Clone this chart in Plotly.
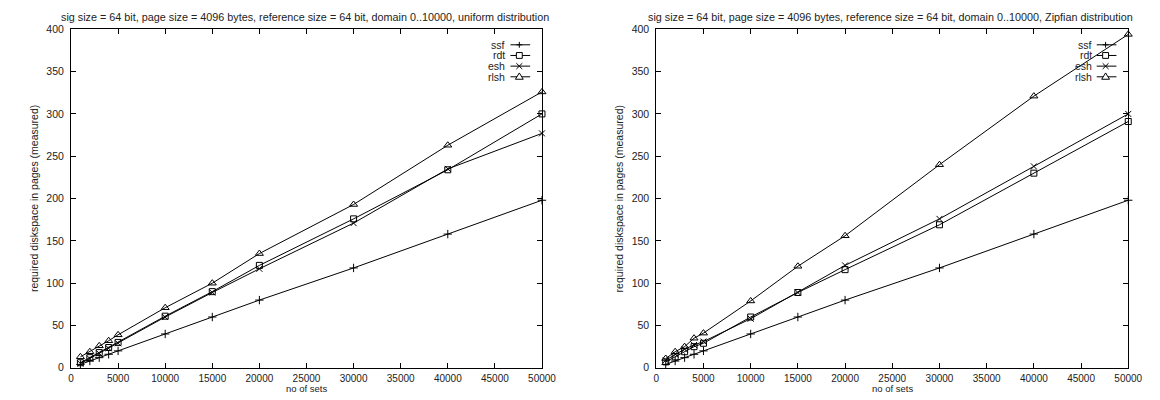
import plotly.graph_objects as go

# ---------------- data ----------------
n_sets = [1000, 2000, 3000, 4000, 5000, 10000, 15000, 20000, 30000, 40000, 50000]

ssf_uniform = [4, 8, 12, 16, 20, 40, 60, 80, 118, 158, 198]
rdt_uniform = [6, 12, 18, 24, 30, 61, 90, 121, 176, 234, 300]
esh_uniform = [5, 11, 17, 23, 29, 60, 89, 117, 171, 235, 277]
rlsh_uniform = [13, 19, 26, 32, 39, 71, 100, 135, 193, 263, 326]

ssf_zipf = [4, 8, 12, 16, 20, 40, 60, 80, 118, 158, 198]
rdt_zipf = [7, 13, 19, 25, 29, 60, 89, 116, 169, 230, 291]
esh_zipf = [9, 16, 22, 27, 31, 58, 89, 121, 176, 238, 300]
rlsh_zipf = [11, 19, 25, 35, 41, 79, 120, 156, 240, 321, 394]

series_names = ["ssf", "rdt", "esh", "rlsh"]
titles = [
    "sig size = 64 bit, page size = 4096 bytes, reference size = 64 bit, domain 0..10000, uniform distribution",
    "sig size = 64 bit, page size = 4096 bytes, reference size = 64 bit, domain 0..10000, Zipfian distribution",
]
x_title = "no of sets"
y_title = "required diskspace in pages (measured)"

# ---------------- layout geometry (pixels) ----------------
W, H = 1160, 400
FONT = "Liberation Sans, Arial, Helvetica, sans-serif"
FS = 10.5
TXT = "#222"
plots_px = [(69, 547), (663, 1142)]
top_px, bottom_px = 24, 373


def px(x):
    return x / W


def py(y):
    return 1 - y / H


symbols = {
    "ssf": dict(symbol="cross-thin", size=6),
    "rdt": dict(symbol="square-open", size=6),
    "esh": dict(symbol="x-thin", size=6),
    "rlsh": dict(symbol="triangle-up-open", size=7),
}

fig = go.Figure()

datasets = [
    [ssf_uniform, rdt_uniform, esh_uniform, rlsh_uniform],
    [ssf_zipf, rdt_zipf, esh_zipf, rlsh_zipf],
]

for i, data in enumerate(datasets):
    xa = "x" if i == 0 else "x2"
    ya = "y" if i == 0 else "y2"
    for name, vals in zip(series_names, data):
        s = symbols[name]
        fig.add_trace(go.Scatter(
            x=n_sets, y=vals, name=name, mode="lines+markers",
            xaxis=xa, yaxis=ya, showlegend=False,
            line=dict(color="black", width=1),
            marker=dict(symbol=s["symbol"], size=s["size"], color="black",
                        line=dict(color="black", width=1)),
            cliponaxis=False,
        ))

axis_common = dict(
    showgrid=False, zeroline=False, showline=True, linecolor="black", linewidth=1,
    mirror="ticks", ticks="inside", ticklen=5, tickcolor="black", tickwidth=1,
)

annotations = []
shapes = []
for i, (l, r) in enumerate(plots_px):
    sfx = "" if i == 0 else "2"
    fig.layout["xaxis" + sfx] = dict(
        axis_common, domain=[px(l), px(r)], range=[0, 50000], dtick=5000,
        tickformat="d", anchor="y" + sfx, ticklabelstandoff=1,
        tickfont=dict(family=FONT, size=10, color=TXT),
    )
    fig.layout["yaxis" + sfx] = dict(
        axis_common, domain=[py(bottom_px), py(top_px)], range=[0, 400], dtick=50,
        anchor="x" + sfx, ticklabelstandoff=4,
        tickfont=dict(family=FONT, size=FS, color=TXT),
    )
    cx = (l + r) / 2
    annotations.append(dict(text=titles[i], x=px(cx - 2), y=py(11), xref="paper", yref="paper",
                            showarrow=False, xanchor="center", yanchor="middle",
                            font=dict(family=FONT, size=FS + 0.3, color=TXT)))
    annotations.append(dict(text=x_title, x=px(cx), y=py(400), xref="paper", yref="paper",
                            showarrow=False, xanchor="center", yanchor="bottom",
                            borderpad=0, yshift=-1,
                            font=dict(family=FONT, size=9.5, color=TXT)))
    annotations.append(dict(text=y_title, x=px(l - 38), y=py((top_px + bottom_px) / 2),
                            xref="paper", yref="paper", textangle=-90,
                            showarrow=False, xanchor="center", yanchor="middle",
                            font=dict(family=FONT, size=FS, color=TXT)))
    # legend (gnuplot style: right-aligned text, then sample line with marker)
    for k, name in enumerate(series_names):
        yy = 40 + k * 11
        annotations.append(dict(text=name, x=px(r - 35), y=py(yy), xref="paper", yref="paper",
                                showarrow=False, xanchor="right", yanchor="middle",
                                font=dict(family=FONT, size=FS, color=TXT)))
        x0, x1 = r - 32, r - 12
        shapes.append(dict(type="line", xref="paper", yref="paper",
                           x0=px(x0), x1=px(x1), y0=py(yy), y1=py(yy),
                           line=dict(color="black", width=1)))
        mx = r - 23
        if name == "ssf":
            pts = [("M", mx - 3, yy), ("L", mx + 3, yy), ("M", mx, yy - 3), ("L", mx, yy + 3)]
            closed = False
        elif name == "rdt":
            pts = [("M", mx - 3, yy - 3), ("L", mx + 3, yy - 3), ("L", mx + 3, yy + 3), ("L", mx - 3, yy + 3)]
            closed = True
        elif name == "esh":
            pts = [("M", mx - 3, yy - 3), ("L", mx + 3, yy + 3), ("M", mx - 3, yy + 3), ("L", mx + 3, yy - 3)]
            closed = False
        else:
            pts = [("M", mx - 4, yy + 2.5), ("L", mx + 4, yy + 2.5), ("L", mx, yy - 4)]
            closed = True
        path = " ".join(f"{c}{px(a):.5f},{py(b):.5f}" for c, a, b in pts) + (" Z" if closed else "")
        shapes.append(dict(type="path", xref="paper", yref="paper", path=path,
                           fillcolor="white" if closed else None,
                           line=dict(color="black", width=1)))

fig.update_layout(
    width=W, height=H, margin=dict(l=0, r=0, t=0, b=0),
    paper_bgcolor="white", plot_bgcolor="white",
    showlegend=False, annotations=annotations, shapes=shapes,
    font=dict(family=FONT, size=FS, color=TXT),
)

fig.write_html("out.html")
